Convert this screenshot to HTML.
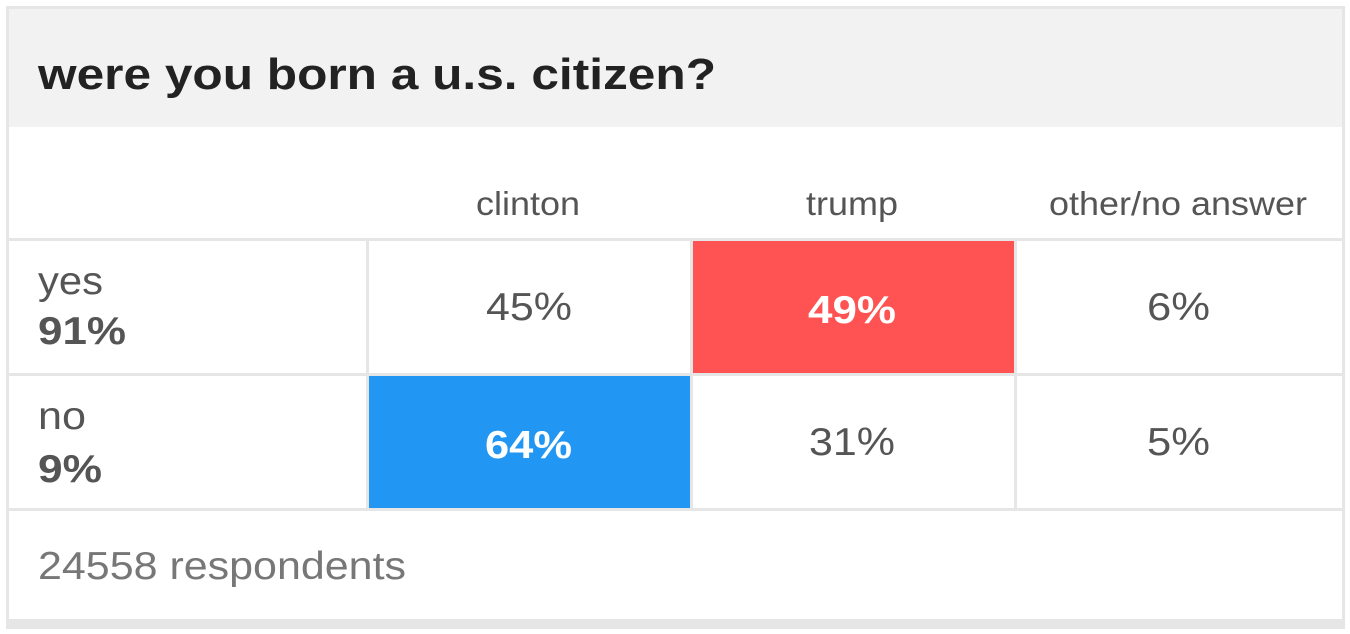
<!DOCTYPE html>
<html><head><style>
html,body{margin:0;padding:0;background:#fff;}
svg{display:block;font-family:"Liberation Sans",Arial,sans-serif;}
</style></head><body>
<svg width="1350" height="634" viewBox="0 0 1350 634" xmlns="http://www.w3.org/2000/svg">
<rect x="6" y="6" width="1339" height="623" fill="#e6e6e6"/>
<rect x="9" y="9" width="1333" height="118" fill="#f2f2f2"/>
<rect x="9" y="127" width="1333" height="111" fill="#fff"/>
<rect x="9" y="241" width="357" height="132" fill="#fff"/>
<rect x="369" y="241" width="321" height="132" fill="#fff"/>
<rect x="693" y="241" width="321" height="132" fill="#ff5252"/>
<rect x="1017" y="241" width="325" height="132" fill="#fff"/>
<rect x="9" y="376" width="357" height="132" fill="#fff"/>
<rect x="369" y="376" width="321" height="132" fill="#2196f3"/>
<rect x="693" y="376" width="321" height="132" fill="#fff"/>
<rect x="1017" y="376" width="325" height="132" fill="#fff"/>
<rect x="9" y="511" width="1333" height="108" fill="#fff"/>
<text x="38" y="89" font-size="44" font-weight="bold" fill="#222" textLength="678" lengthAdjust="spacingAndGlyphs">were you born a u.s. citizen?</text>
<g font-size="33" fill="#555">
<text x="476" y="215" textLength="104" lengthAdjust="spacingAndGlyphs">clinton</text>
<text x="806" y="215" textLength="92" lengthAdjust="spacingAndGlyphs">trump</text>
<text x="1049" y="215" textLength="258" lengthAdjust="spacingAndGlyphs">other/no answer</text>
</g>
<g font-size="39" fill="#555">
<text x="38" y="294" textLength="65" lengthAdjust="spacingAndGlyphs">yes</text>
<text x="38" y="344" font-weight="bold" textLength="88" lengthAdjust="spacingAndGlyphs">91%</text>
<text x="38" y="429" textLength="48" lengthAdjust="spacingAndGlyphs">no</text>
<text x="38" y="482" font-weight="bold" textLength="64" lengthAdjust="spacingAndGlyphs">9%</text>
</g>
<g font-size="39" fill="#555">
<text x="486" y="320" textLength="86" lengthAdjust="spacingAndGlyphs">45%</text>
<text x="808" y="323" fill="#fff" font-weight="bold" textLength="88" lengthAdjust="spacingAndGlyphs">49%</text>
<text x="1147" y="320" textLength="63" lengthAdjust="spacingAndGlyphs">6%</text>
<text x="485" y="458" fill="#fff" font-weight="bold" textLength="87" lengthAdjust="spacingAndGlyphs">64%</text>
<text x="809" y="455" textLength="86" lengthAdjust="spacingAndGlyphs">31%</text>
<text x="1147" y="455" textLength="63" lengthAdjust="spacingAndGlyphs">5%</text>
</g>
<text x="38" y="579" font-size="39" fill="#777" textLength="368" lengthAdjust="spacingAndGlyphs">24558 respondents</text>
</svg>
</body></html>
